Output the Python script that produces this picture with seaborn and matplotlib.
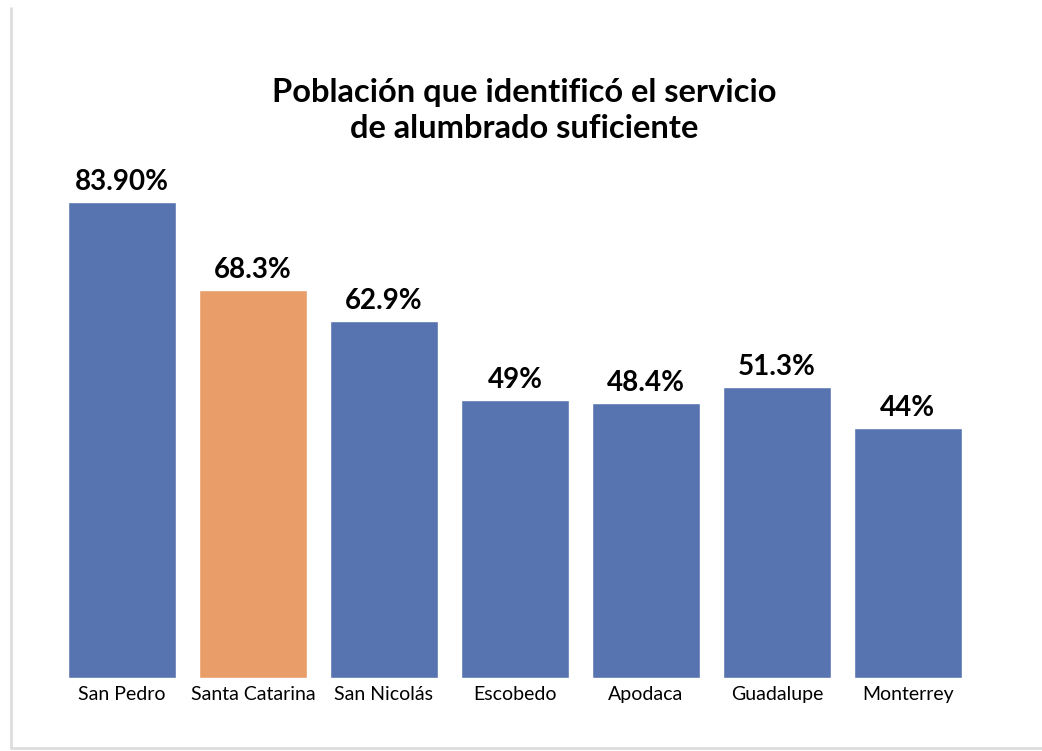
import matplotlib
matplotlib.use("Agg")
import matplotlib.pyplot as plt
import seaborn as sns
import pandas as pd

# datos
municipios = ["San Pedro", "Santa Catarina", "San Nicolás", "Escobedo",
              "Apodaca", "Guadalupe", "Monterrey"]
valores = [83.9, 68.3, 62.9, 49, 48.4, 51.3, 44]
etiquetas = ["83.90%", "68.3%", "62.9%", "49%", "48.4%", "51.3%", "44%"]
colores = ["#5773B0", "#E99D68", "#5773B0", "#5773B0", "#5773B0", "#5773B0", "#5773B0"]

df = pd.DataFrame({"municipio": municipios, "valor": valores})

sns.set_style("white")
plt.rcParams["font.family"] = ["Lato", "DejaVu Sans"]
plt.rcParams["text.color"] = "black"
plt.rcParams["xtick.color"] = "black"

fig = plt.figure(figsize=(10.42, 7.51), dpi=100)
ax = fig.add_axes([0.0542, 0.0972, 0.880, 0.680])

sns.barplot(data=df, x="municipio", y="valor", hue="municipio",
            palette=colores, width=0.83, legend=False, ax=ax, saturation=1)

for i, (v, t) in enumerate(zip(valores, etiquetas)):
    ax.text(i, v + 1.3, t, ha="center", va="bottom", fontsize=20, fontweight="bold")

ax.set_ylim(0, 90)
ax.set_xlim(-0.5, 6.5)
ax.set_xlabel("")
ax.set_ylabel("")
ax.set_yticks([])
ax.tick_params(axis="x", length=0, labelsize=14, pad=6)
sns.despine(ax=ax, left=True, bottom=True)

fig.text(0.503, 0.853, "Población que identificó el servicio\nde alumbrado suficiente",
         ha="center", va="center", fontsize=23.5, fontweight="bold", linespacing=1.27)

# marco gris claro de la captura
fig.add_artist(plt.Line2D([0.011, 0.011], [0.004, 0.99], color="#dddddd", lw=2))
fig.add_artist(plt.Line2D([0.011, 1.0], [0.004, 0.004], color="#dddddd", lw=2))

plt.savefig("out.png", dpi=100)
